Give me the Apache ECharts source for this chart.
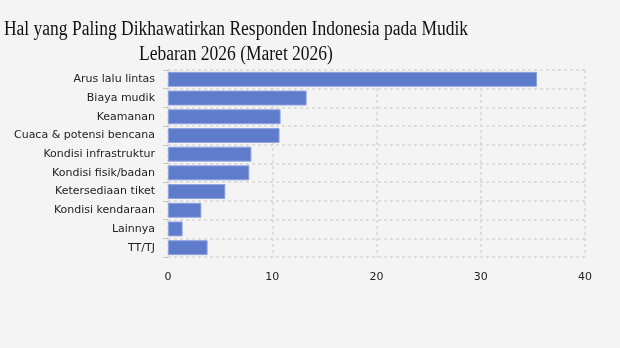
<!DOCTYPE html>
<html><head><meta charset="utf-8">
<script src="https://cdn.jsdelivr.net/npm/echarts@6/dist/echarts.min.js"></script>
<style>html,body{margin:0;padding:0;background:#f4f4f4;}#c{width:620px;height:348px;}</style>
</head><body><div id="c"></div>
<script>
const categories = ["Arus lalu lintas","Biaya mudik","Keamanan","Cuaca & potensi bencana","Kondisi infrastruktur","Kondisi fisik/badan","Ketersediaan tiket","Kondisi kendaraan","Lainnya","TT/TJ"];
const values = [35.4, 13.3, 10.8, 10.7, 8.0, 7.8, 5.5, 3.2, 1.4, 3.8];
const xTicks = [0, 10, 20, 30, 40];
const titleLines = ['Hal yang Paling Dikhawatirkan Responden Indonesia pada Mudik', 'Lebaran 2026 (Maret 2026)'];

const chart = echarts.init(document.getElementById('c'));
const grid = {color:'#dedede', type:[3,3], width:2};
const tStyle = {fontFamily:'Liberation Serif', fontSize:20, fill:'#111', align:'center', verticalAlign:'top'};
chart.setOption({
  backgroundColor:'#f4f4f4',
  animation:false,
  graphic:[{
    type:'group', x:236, y:0, scaleX:0.875,
    children:[
      {type:'text', x:0, y:20, style:Object.assign({text:titleLines[0]}, tStyle)},
      {type:'text', x:0, y:45, style:Object.assign({text:titleLines[1]}, tStyle)}
    ]
  }],
  grid:{left:168, right:35, top:70, bottom:91},
  xAxis:{
    type:'value', min:xTicks[0], max:xTicks[xTicks.length-1], interval:10,
    axisLine:{show:false}, axisTick:{show:false},
    splitLine:{show:true, lineStyle:grid},
    axisLabel:{fontFamily:'DejaVu Sans', fontSize:11, color:'#222', margin:15}
  },
  yAxis:{
    type:'category', data:categories, inverse:true,
    axisLine:{show:true, lineStyle:grid},
    axisTick:{show:true, length:5, lineStyle:{color:'#c8c8c8'}},
    splitLine:{show:true, interval:0, lineStyle:grid},
    axisLabel:{fontFamily:'DejaVu Sans', fontSize:11, color:'#222', margin:13}
  },
  series:[{
    type:'bar', data:values, barCategoryGap:'20%',
    itemStyle:{color:'#5f7bcb', borderColor:'#8fa3dc', borderWidth:1}
  }]
});
</script></body></html>
